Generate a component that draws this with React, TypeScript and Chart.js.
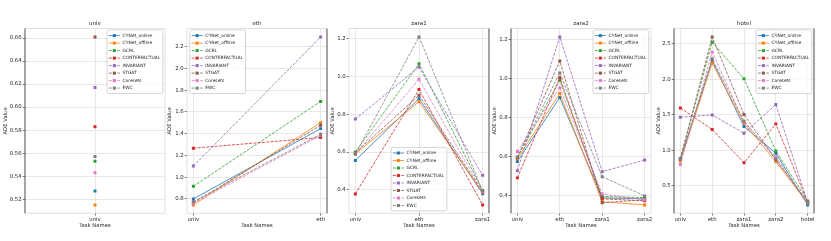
import React, { useEffect, useRef } from 'react';
import { Chart, registerables } from 'chart.js';

Chart.register(...registerables);

const taskNames = ['univ', 'eth', 'zara1', 'zara2', 'hotel'];
const methodNames = [
  'C\u00B2INet_online',
  'C\u00B2INet_offline',
  'GCRL',
  'CONTERFACTUAL',
  'INVARIANT',
  'STGAT',
  'Coresets',
  'EWC',
];
const methodColors = ['#1f77b4', '#ff7f0e', '#2ca02c', '#d62728', '#9467bd', '#8c564b', '#e377c2', '#7f7f7f'];
const solidMethods = ['C\u00B2INet_online', 'C\u00B2INet_offline'];

// ADE values: one row per method (order of methodNames), one column per task seen so far
const univADE = [[0.527], [0.515], [0.553], [0.583], [0.617], [0.661], [0.543], [0.557]];
const ethADE = [
  [0.8, 1.447],
  [0.745, 1.502],
  [0.916, 1.697],
  [1.267, 1.365],
  [1.102, 2.291],
  [0.765, 1.478],
  [0.76, 1.385],
  [0.775, 1.395],
];
const zara1ADE = [
  [0.556, 0.882, 0.38],
  [0.59, 0.866, 0.386],
  [0.6, 1.066, 0.396],
  [0.379, 0.93, 0.321],
  [0.774, 1.049, 0.477],
  [0.595, 0.9, 0.39],
  [0.59, 0.984, 0.39],
  [0.588, 1.208, 0.394],
];
const zara2ADE = [
  [0.576, 0.902, 0.39, 0.385],
  [0.59, 0.923, 0.37, 0.354],
  [0.597, 0.99, 0.397, 0.391],
  [0.492, 1.004, 0.385, 0.375],
  [0.529, 1.212, 0.524, 0.583],
  [0.595, 1.089, 0.365, 0.38],
  [0.627, 0.953, 0.41, 0.38],
  [0.597, 1.028, 0.498, 0.4],
];
const hotelADE = [
  [0.87, 2.26, 1.335, 0.96, 0.234],
  [0.85, 2.226, 1.38, 0.84, 0.26],
  [0.887, 2.52, 2.006, 0.99, 0.29],
  [1.596, 1.293, 0.827, 1.372, 0.27],
  [1.465, 1.498, 1.241, 1.643, 0.27],
  [0.88, 2.594, 1.503, 0.87, 0.275],
  [0.8, 2.38, 1.4, 0.906, 0.268],
  [0.875, 2.286, 1.41, 0.88, 0.262],
];

const yTickSteps = [0.02, 0.2, 0.2, 0.2, 0.5];
const yTickDecimals = [2, 1, 1, 1, 1];

type LegendPos = 'upperRight' | 'upperLeft' | 'lowerCenter';
interface PanelCfg {
  title: string;
  data: number[][];
  plotLeft: number;
  yLabelOffset: number;
  legend: LegendPos;
  step: number;
  dec: number;
  darkLeft: boolean;
  darkRight: boolean;
}

const panels: PanelCfg[] = [
  { title: taskNames[0], data: univADE, plotLeft: 25, yLabelOffset: 19.3, legend: 'upperRight', step: yTickSteps[0], dec: yTickDecimals[0], darkLeft: true, darkRight: false },
  { title: taskNames[1], data: ethADE, plotLeft: 186.5, yLabelOffset: 17.5, legend: 'upperLeft', step: yTickSteps[1], dec: yTickDecimals[1], darkLeft: false, darkRight: true },
  { title: taskNames[2], data: zara1ADE, plotLeft: 348.5, yLabelOffset: 16.8, legend: 'lowerCenter', step: yTickSteps[2], dec: yTickDecimals[2], darkLeft: false, darkRight: true },
  { title: taskNames[3], data: zara2ADE, plotLeft: 511, yLabelOffset: 16, legend: 'upperRight', step: yTickSteps[3], dec: yTickDecimals[3], darkLeft: true, darkRight: false },
  { title: taskNames[4], data: hotelADE, plotLeft: 674, yLabelOffset: 15.7, legend: 'upperRight', step: yTickSteps[4], dec: yTickDecimals[4], darkLeft: true, darkRight: true },
];

const FAMILY = '"DejaVu Sans", sans-serif';
const TEXT = '#262626';
const AXIS_W = 28;
const PLOT_W = 140;
const PAD_R = 3;
const CANVAS_W = AXIS_W + PLOT_W + PAD_R;
const CANVAS_H = 241;
const PLOT_TOP = 28.5;
const PLOT_BOTTOM = 213.3;

function Panel({ cfg }: { cfg: PanelCfg }) {
  const ref = useRef<HTMLCanvasElement>(null);
  useEffect(() => {
    const canvas = ref.current;
    if (!canvas) return;
    const n = cfg.data[0].length;
    const all = cfg.data.flat();
    const lo = Math.min(...all);
    const hi = Math.max(...all);
    const pad = (hi - lo) * 0.05;
    const xm = n > 1 ? (n - 1) * 0.05 : 0.5;

    const datasets = methodNames.map((name, i) => ({
      label: name,
      data: cfg.data[i].map((v, j) => ({ x: j, y: v })),
      borderColor: methodColors[i],
      backgroundColor: methodColors[i],
      pointBackgroundColor: methodColors[i],
      borderWidth: 0.8,
      borderDash: solidMethods.includes(name) ? [] : [3, 1.3],
      pointStyle: 'rect' as const,
      pointRadius: 2.1,
      pointBorderWidth: 0,
      pointHoverRadius: 2.1,
      fill: false,
      tension: 0,
      order: -i,
    }));

    const decor = {
      id: 'decor',
      afterDatasetsDraw(chart: any) {
        const { ctx, chartArea } = chart;
        const { left, right, top, bottom } = chartArea;
        ctx.save();
        ctx.lineWidth = 0.8;
        ctx.strokeStyle = '#d9d9d9';
        ctx.beginPath();
        ctx.moveTo(left, top);
        ctx.lineTo(right, top);
        ctx.moveTo(left, bottom);
        ctx.lineTo(right, bottom);
        if (!cfg.darkLeft) {
          ctx.moveTo(left, top);
          ctx.lineTo(left, bottom);
        }
        if (!cfg.darkRight) {
          ctx.moveTo(right, top);
          ctx.lineTo(right, bottom);
        }
        ctx.stroke();
        ctx.strokeStyle = '#4a4a4a';
        ctx.lineWidth = 1;
        ctx.beginPath();
        if (cfg.darkLeft) {
          ctx.moveTo(left, top);
          ctx.lineTo(left, bottom);
        }
        if (cfg.darkRight) {
          ctx.moveTo(right, top);
          ctx.lineTo(right, bottom);
        }
        ctx.stroke();
        ctx.restore();
      },
      afterDraw(chart: any) {
        const { ctx, chartArea } = chart;
        const { left, right, top, bottom } = chartArea;
        ctx.save();
        // title
        ctx.font = `5.5px ${FAMILY}`;
        ctx.fillStyle = TEXT;
        ctx.textAlign = 'center';
        ctx.textBaseline = 'middle';
        ctx.fillText(cfg.title, (left + right) / 2, 24);

        // legend
        const fs = 4.4;
        ctx.font = `${fs}px ${FAMILY}`;
        const textW = Math.max(...methodNames.map((m) => ctx.measureText(m).width));
        const bw = 1.8 + 11 + 2.6 + textW + 2.6;
        const bh = 63.5;
        let bx = right - 2.2 - bw;
        let by = top + 1.5;
        if (cfg.legend === 'upperLeft') {
          bx = left + 2.8;
        } else if (cfg.legend === 'lowerCenter') {
          bx = (left + right) / 2 - bw / 2;
          by = bottom - 2.4 - bh;
        }
        ctx.beginPath();
        (ctx as any).roundRect(bx, by, bw, bh, 1.5);
        ctx.fillStyle = 'rgba(255,255,255,0.8)';
        ctx.fill();
        ctx.strokeStyle = '#cccccc';
        ctx.lineWidth = 0.8;
        ctx.stroke();
        methodNames.forEach((name, i) => {
          const y = by + 5.6 + i * 7.5;
          const x0 = bx + 1.8;
          const x1 = x0 + 11;
          ctx.strokeStyle = methodColors[i];
          ctx.lineWidth = 0.8;
          ctx.setLineDash(solidMethods.includes(name) ? [] : [3, 1.3]);
          ctx.beginPath();
          ctx.moveTo(x0, y);
          ctx.lineTo(x1, y);
          ctx.stroke();
          ctx.setLineDash([]);
          ctx.fillStyle = methodColors[i];
          ctx.fillRect((x0 + x1) / 2 - 1.5, y - 1.5, 3, 3);
          ctx.fillStyle = TEXT;
          ctx.textAlign = 'left';
          ctx.textBaseline = 'middle';
          ctx.fillText(name, x1 + 2.6, y + 0.2);
        });
        ctx.restore();
      },
    };

    const gridCfg = {
      color: '#e2e2e2',
      lineWidth: 0.8,
      tickLength: 2.3,
      tickColor: '#555555',
      tickWidth: 0.8,
      drawTicks: true,
    };

    const chart = new Chart(canvas, {
      type: 'line',
      data: { datasets: datasets as any },
      plugins: [decor as any],
      options: {
        animation: false,
        responsive: false,
        devicePixelRatio: 1,
        events: [],
        layout: { padding: { left: 0, right: PAD_R, top: PLOT_TOP, bottom: 0 } },
        plugins: {
          legend: { display: false },
          title: { display: false },
          tooltip: { enabled: false },
        },
        scales: {
          x: {
            type: 'linear',
            min: -xm,
            max: n - 1 + xm,
            afterBuildTicks: (s: any) => {
              s.ticks = taskNames.slice(0, n).map((_, j) => ({ value: j }));
            },
            afterFit: (s: any) => {
              s.height = CANVAS_H - PLOT_BOTTOM;
            },
            ticks: {
              callback: (v: any) => taskNames[Math.round(Number(v))] ?? '',
              font: { size: 5.4, family: FAMILY },
              color: TEXT,
              padding: 1,
              maxRotation: 0,
              autoSkip: false,
            },
            grid: gridCfg as any,
            border: { display: false },
            title: {
              display: true,
              text: 'Task Names',
              font: { size: 5.3, family: FAMILY },
              color: TEXT,
              padding: { top: 0, bottom: 12.2 },
            },
          },
          y: {
            type: 'linear',
            min: lo - pad,
            max: hi + pad,
            afterFit: (s: any) => {
              s.width = AXIS_W;
            },
            ticks: {
              stepSize: cfg.step,
              includeBounds: false,
              callback: (v: any) => Number(v).toFixed(cfg.dec),
              font: { size: 5.4, family: FAMILY },
              color: TEXT,
              padding: 1,
            },
            grid: gridCfg as any,
            border: { display: false },
            title: {
              display: true,
              text: 'ADE Value',
              font: { size: 5.3, family: FAMILY },
              color: TEXT,
              padding: { top: AXIS_W - cfg.yLabelOffset - 3.2, bottom: 0 },
            },
          },
        },
      } as any,
    });
    return () => chart.destroy();
  }, [cfg]);

  return (
    <canvas
      ref={ref}
      width={CANVAS_W}
      height={CANVAS_H}
      style={{ position: 'absolute', left: cfg.plotLeft - AXIS_W, top: 0, width: CANVAS_W, height: CANVAS_H }}
    />
  );
}

export default function App() {
  return (
    <div
      style={{
        position: 'fixed',
        left: 0,
        top: 0,
        width: 831,
        height: 241,
        background: '#ffffff',
        overflow: 'hidden',
      }}
    >
      {panels.map((p) => (
        <Panel key={p.title} cfg={p} />
      ))}
    </div>
  );
}
